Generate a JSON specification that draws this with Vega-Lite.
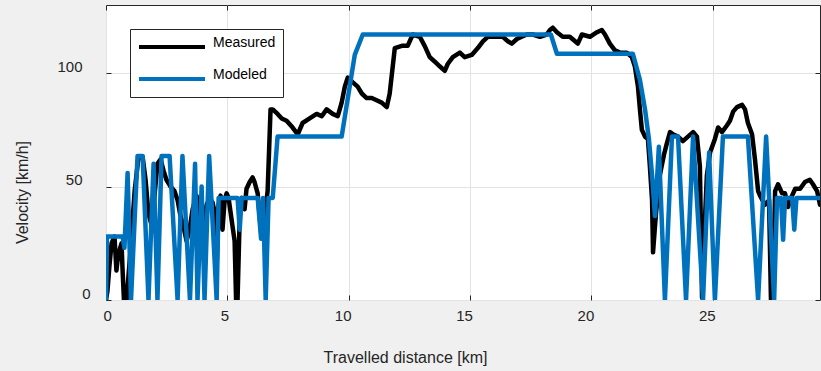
{
  "$schema": "https://vega.github.io/schema/vega-lite/v6.json",
  "width": 714,
  "height": 295,
  "autosize": {"type": "none"},
  "padding": {"left": 106, "top": 5, "right": 1, "bottom": 71},
  "background": "#f0f0f0",
  "view": {"fill": "white", "stroke": "#262626", "strokeWidth": 1},
  "config": {
    "font": "Liberation Sans",
    "axis": {"labelFont": "Liberation Sans", "titleFont": "Liberation Sans", "labelColor": "#262626", "titleColor": "#262626", "titleFontWeight": "normal"}
  },
  "datasets": {
    "speed": [
      {"series": "Measured", "distance": 0, "velocity": 0},
      {"series": "Measured", "distance": 0.06, "velocity": 4},
      {"series": "Measured", "distance": 0.14, "velocity": 15},
      {"series": "Measured", "distance": 0.23, "velocity": 25},
      {"series": "Measured", "distance": 0.35, "velocity": 28},
      {"series": "Measured", "distance": 0.43, "velocity": 13},
      {"series": "Measured", "distance": 0.47, "velocity": 17},
      {"series": "Measured", "distance": 0.56, "velocity": 22},
      {"series": "Measured", "distance": 0.64, "velocity": 25},
      {"series": "Measured", "distance": 0.68, "velocity": 14},
      {"series": "Measured", "distance": 0.74, "velocity": 0},
      {"series": "Measured", "distance": 0.85, "velocity": 0},
      {"series": "Measured", "distance": 1.01, "velocity": 22},
      {"series": "Measured", "distance": 1.18, "velocity": 48},
      {"series": "Measured", "distance": 1.34, "velocity": 63},
      {"series": "Measured", "distance": 1.51, "velocity": 63},
      {"series": "Measured", "distance": 1.63, "velocity": 53},
      {"series": "Measured", "distance": 1.75, "velocity": 38},
      {"series": "Measured", "distance": 1.88, "velocity": 33},
      {"series": "Measured", "distance": 2.0, "velocity": 46},
      {"series": "Measured", "distance": 2.12, "velocity": 60},
      {"series": "Measured", "distance": 2.25, "velocity": 62},
      {"series": "Measured", "distance": 2.37, "velocity": 57},
      {"series": "Measured", "distance": 2.49, "velocity": 53},
      {"series": "Measured", "distance": 2.66, "velocity": 50},
      {"series": "Measured", "distance": 2.82, "velocity": 48},
      {"series": "Measured", "distance": 2.95, "velocity": 44},
      {"series": "Measured", "distance": 3.07, "velocity": 37},
      {"series": "Measured", "distance": 3.2, "velocity": 32},
      {"series": "Measured", "distance": 3.32, "velocity": 26},
      {"series": "Measured", "distance": 3.44, "velocity": 31},
      {"series": "Measured", "distance": 3.57, "velocity": 40},
      {"series": "Measured", "distance": 3.73, "velocity": 46},
      {"series": "Measured", "distance": 3.86, "velocity": 37},
      {"series": "Measured", "distance": 3.98, "velocity": 31},
      {"series": "Measured", "distance": 4.15, "velocity": 42},
      {"series": "Measured", "distance": 4.27, "velocity": 45},
      {"series": "Measured", "distance": 4.39, "velocity": 43},
      {"series": "Measured", "distance": 4.47, "velocity": 39},
      {"series": "Measured", "distance": 4.56, "velocity": 15},
      {"series": "Measured", "distance": 4.64, "velocity": 42},
      {"series": "Measured", "distance": 4.72, "velocity": 46},
      {"series": "Measured", "distance": 4.8, "velocity": 31},
      {"series": "Measured", "distance": 4.89, "velocity": 44},
      {"series": "Measured", "distance": 4.97, "velocity": 47},
      {"series": "Measured", "distance": 5.05, "velocity": 45},
      {"series": "Measured", "distance": 5.18, "velocity": 35},
      {"series": "Measured", "distance": 5.3, "velocity": 26},
      {"series": "Measured", "distance": 5.36, "velocity": 0},
      {"series": "Measured", "distance": 5.42, "velocity": 0},
      {"series": "Measured", "distance": 5.51, "velocity": 37},
      {"series": "Measured", "distance": 5.59, "velocity": 45},
      {"series": "Measured", "distance": 5.71, "velocity": 40},
      {"series": "Measured", "distance": 5.79, "velocity": 49},
      {"series": "Measured", "distance": 5.92, "velocity": 52},
      {"series": "Measured", "distance": 6.04, "velocity": 54},
      {"series": "Measured", "distance": 6.12, "velocity": 52},
      {"series": "Measured", "distance": 6.25, "velocity": 47},
      {"series": "Measured", "distance": 6.33, "velocity": 37},
      {"series": "Measured", "distance": 6.41, "velocity": 28},
      {"series": "Measured", "distance": 6.49, "velocity": 33},
      {"series": "Measured", "distance": 6.66, "velocity": 48},
      {"series": "Measured", "distance": 6.78, "velocity": 84},
      {"series": "Measured", "distance": 6.87, "velocity": 84},
      {"series": "Measured", "distance": 7.07, "velocity": 82},
      {"series": "Measured", "distance": 7.24, "velocity": 80},
      {"series": "Measured", "distance": 7.44, "velocity": 79},
      {"series": "Measured", "distance": 7.69, "velocity": 76},
      {"series": "Measured", "distance": 7.9, "velocity": 73},
      {"series": "Measured", "distance": 8.1, "velocity": 78},
      {"series": "Measured", "distance": 8.39, "velocity": 80},
      {"series": "Measured", "distance": 8.68, "velocity": 82},
      {"series": "Measured", "distance": 8.89, "velocity": 81},
      {"series": "Measured", "distance": 9.09, "velocity": 84},
      {"series": "Measured", "distance": 9.34, "velocity": 82},
      {"series": "Measured", "distance": 9.55, "velocity": 81},
      {"series": "Measured", "distance": 9.71, "velocity": 87},
      {"series": "Measured", "distance": 9.84, "velocity": 94},
      {"series": "Measured", "distance": 9.96, "velocity": 98},
      {"series": "Measured", "distance": 10.16, "velocity": 96},
      {"series": "Measured", "distance": 10.37, "velocity": 94},
      {"series": "Measured", "distance": 10.54, "velocity": 91},
      {"series": "Measured", "distance": 10.74, "velocity": 89},
      {"series": "Measured", "distance": 10.95, "velocity": 89},
      {"series": "Measured", "distance": 11.15, "velocity": 88},
      {"series": "Measured", "distance": 11.36, "velocity": 87},
      {"series": "Measured", "distance": 11.57, "velocity": 85},
      {"series": "Measured", "distance": 11.69, "velocity": 91},
      {"series": "Measured", "distance": 11.9, "velocity": 111},
      {"series": "Measured", "distance": 12.19, "velocity": 112},
      {"series": "Measured", "distance": 12.43, "velocity": 112},
      {"series": "Measured", "distance": 12.64, "velocity": 117},
      {"series": "Measured", "distance": 12.93, "velocity": 116},
      {"series": "Measured", "distance": 13.13, "velocity": 112},
      {"series": "Measured", "distance": 13.34, "velocity": 107},
      {"series": "Measured", "distance": 13.55, "velocity": 105},
      {"series": "Measured", "distance": 13.75, "velocity": 103},
      {"series": "Measured", "distance": 13.96, "velocity": 101},
      {"series": "Measured", "distance": 14.08, "velocity": 104},
      {"series": "Measured", "distance": 14.29, "velocity": 107},
      {"series": "Measured", "distance": 14.58, "velocity": 109},
      {"series": "Measured", "distance": 14.78, "velocity": 107},
      {"series": "Measured", "distance": 15.07, "velocity": 108},
      {"series": "Measured", "distance": 15.32, "velocity": 111},
      {"series": "Measured", "distance": 15.53, "velocity": 114},
      {"series": "Measured", "distance": 15.73, "velocity": 116},
      {"series": "Measured", "distance": 16.1, "velocity": 116},
      {"series": "Measured", "distance": 16.35, "velocity": 116},
      {"series": "Measured", "distance": 16.56, "velocity": 114},
      {"series": "Measured", "distance": 16.72, "velocity": 113},
      {"series": "Measured", "distance": 16.93, "velocity": 115},
      {"series": "Measured", "distance": 17.13, "velocity": 116},
      {"series": "Measured", "distance": 17.34, "velocity": 117},
      {"series": "Measured", "distance": 17.59, "velocity": 117},
      {"series": "Measured", "distance": 17.88, "velocity": 116},
      {"series": "Measured", "distance": 18.16, "velocity": 117},
      {"series": "Measured", "distance": 18.29, "velocity": 119},
      {"series": "Measured", "distance": 18.41, "velocity": 120},
      {"series": "Measured", "distance": 18.58, "velocity": 118},
      {"series": "Measured", "distance": 18.82, "velocity": 116},
      {"series": "Measured", "distance": 19.11, "velocity": 116},
      {"series": "Measured", "distance": 19.44, "velocity": 113},
      {"series": "Measured", "distance": 19.61, "velocity": 117},
      {"series": "Measured", "distance": 19.94, "velocity": 116},
      {"series": "Measured", "distance": 20.23, "velocity": 118},
      {"series": "Measured", "distance": 20.43, "velocity": 119},
      {"series": "Measured", "distance": 20.56, "velocity": 117},
      {"series": "Measured", "distance": 20.76, "velocity": 113},
      {"series": "Measured", "distance": 20.97, "velocity": 110},
      {"series": "Measured", "distance": 21.18, "velocity": 109},
      {"series": "Measured", "distance": 21.46, "velocity": 109},
      {"series": "Measured", "distance": 21.67, "velocity": 107},
      {"series": "Measured", "distance": 21.79, "velocity": 103},
      {"series": "Measured", "distance": 21.92, "velocity": 94},
      {"series": "Measured", "distance": 22.0, "velocity": 84},
      {"series": "Measured", "distance": 22.08, "velocity": 75},
      {"series": "Measured", "distance": 22.21, "velocity": 72},
      {"series": "Measured", "distance": 22.33, "velocity": 71},
      {"series": "Measured", "distance": 22.41, "velocity": 59},
      {"series": "Measured", "distance": 22.5, "velocity": 44},
      {"series": "Measured", "distance": 22.54, "velocity": 21},
      {"series": "Measured", "distance": 22.66, "velocity": 38},
      {"series": "Measured", "distance": 22.82, "velocity": 55},
      {"series": "Measured", "distance": 22.99, "velocity": 64},
      {"series": "Measured", "distance": 23.11, "velocity": 69},
      {"series": "Measured", "distance": 23.24, "velocity": 74},
      {"series": "Measured", "distance": 23.36, "velocity": 73},
      {"series": "Measured", "distance": 23.57, "velocity": 72},
      {"series": "Measured", "distance": 23.77, "velocity": 70},
      {"series": "Measured", "distance": 23.98, "velocity": 72},
      {"series": "Measured", "distance": 24.19, "velocity": 74},
      {"series": "Measured", "distance": 24.35, "velocity": 72},
      {"series": "Measured", "distance": 24.47, "velocity": 59},
      {"series": "Measured", "distance": 24.56, "velocity": 1},
      {"series": "Measured", "distance": 24.64, "velocity": 26},
      {"series": "Measured", "distance": 24.76, "velocity": 55},
      {"series": "Measured", "distance": 24.89, "velocity": 65},
      {"series": "Measured", "distance": 25.09, "velocity": 71},
      {"series": "Measured", "distance": 25.22, "velocity": 76},
      {"series": "Measured", "distance": 25.38, "velocity": 74},
      {"series": "Measured", "distance": 25.59, "velocity": 77},
      {"series": "Measured", "distance": 25.71, "velocity": 79},
      {"series": "Measured", "distance": 25.84, "velocity": 83},
      {"series": "Measured", "distance": 26.0, "velocity": 85},
      {"series": "Measured", "distance": 26.21, "velocity": 86},
      {"series": "Measured", "distance": 26.33, "velocity": 84},
      {"series": "Measured", "distance": 26.45, "velocity": 78},
      {"series": "Measured", "distance": 26.62, "velocity": 73},
      {"series": "Measured", "distance": 26.74, "velocity": 62},
      {"series": "Measured", "distance": 26.87, "velocity": 48},
      {"series": "Measured", "distance": 26.95, "velocity": 46},
      {"series": "Measured", "distance": 27.15, "velocity": 42},
      {"series": "Measured", "distance": 27.32, "velocity": 44},
      {"series": "Measured", "distance": 27.4, "velocity": 0},
      {"series": "Measured", "distance": 27.48, "velocity": 1},
      {"series": "Measured", "distance": 27.57, "velocity": 48},
      {"series": "Measured", "distance": 27.69, "velocity": 51},
      {"series": "Measured", "distance": 27.86, "velocity": 47},
      {"series": "Measured", "distance": 27.98, "velocity": 47},
      {"series": "Measured", "distance": 28.1, "velocity": 41},
      {"series": "Measured", "distance": 28.27, "velocity": 46},
      {"series": "Measured", "distance": 28.4, "velocity": 49},
      {"series": "Measured", "distance": 28.6, "velocity": 49},
      {"series": "Measured", "distance": 28.8, "velocity": 52},
      {"series": "Measured", "distance": 29.0, "velocity": 53},
      {"series": "Measured", "distance": 29.13, "velocity": 51},
      {"series": "Measured", "distance": 29.3, "velocity": 48},
      {"series": "Measured", "distance": 29.42, "velocity": 42},
      {"series": "Modeled", "distance": 0, "velocity": 0},
      {"series": "Modeled", "distance": 0.04, "velocity": 28},
      {"series": "Modeled", "distance": 0.68, "velocity": 28},
      {"series": "Modeled", "distance": 0.76, "velocity": 23},
      {"series": "Modeled", "distance": 0.89, "velocity": 56},
      {"series": "Modeled", "distance": 1.03, "velocity": 0},
      {"series": "Modeled", "distance": 1.3, "velocity": 63.5},
      {"series": "Modeled", "distance": 1.51, "velocity": 63.5},
      {"series": "Modeled", "distance": 1.75, "velocity": 0},
      {"series": "Modeled", "distance": 1.96, "velocity": 60},
      {"series": "Modeled", "distance": 2.12, "velocity": 0},
      {"series": "Modeled", "distance": 2.29, "velocity": 63.5},
      {"series": "Modeled", "distance": 2.62, "velocity": 63.5},
      {"series": "Modeled", "distance": 2.95, "velocity": 0},
      {"series": "Modeled", "distance": 3.15, "velocity": 63.5},
      {"series": "Modeled", "distance": 3.46, "velocity": 0},
      {"series": "Modeled", "distance": 3.67, "velocity": 60},
      {"series": "Modeled", "distance": 3.77, "velocity": 0},
      {"series": "Modeled", "distance": 3.94, "velocity": 50},
      {"series": "Modeled", "distance": 4.06, "velocity": 0},
      {"series": "Modeled", "distance": 4.25, "velocity": 63.5},
      {"series": "Modeled", "distance": 4.56, "velocity": 0},
      {"series": "Modeled", "distance": 4.64, "velocity": 45},
      {"series": "Modeled", "distance": 5.42, "velocity": 45},
      {"series": "Modeled", "distance": 5.51, "velocity": 31},
      {"series": "Modeled", "distance": 5.59, "velocity": 45},
      {"series": "Modeled", "distance": 6.25, "velocity": 45},
      {"series": "Modeled", "distance": 6.39, "velocity": 27},
      {"series": "Modeled", "distance": 6.47, "velocity": 45},
      {"series": "Modeled", "distance": 6.58, "velocity": 0},
      {"series": "Modeled", "distance": 6.7, "velocity": 45},
      {"series": "Modeled", "distance": 6.87, "velocity": 45},
      {"series": "Modeled", "distance": 7.07, "velocity": 72},
      {"series": "Modeled", "distance": 9.71, "velocity": 72},
      {"series": "Modeled", "distance": 10.25, "velocity": 108},
      {"series": "Modeled", "distance": 10.58, "velocity": 117},
      {"series": "Modeled", "distance": 18.33, "velocity": 117},
      {"series": "Modeled", "distance": 18.58, "velocity": 108.5},
      {"series": "Modeled", "distance": 21.71, "velocity": 108.5},
      {"series": "Modeled", "distance": 22.0, "velocity": 97},
      {"series": "Modeled", "distance": 22.21, "velocity": 84},
      {"series": "Modeled", "distance": 22.37, "velocity": 71},
      {"series": "Modeled", "distance": 22.5, "velocity": 55},
      {"series": "Modeled", "distance": 22.62, "velocity": 37},
      {"series": "Modeled", "distance": 22.78, "velocity": 67.5},
      {"series": "Modeled", "distance": 23.03, "velocity": 0},
      {"series": "Modeled", "distance": 23.32, "velocity": 72},
      {"series": "Modeled", "distance": 23.57, "velocity": 72},
      {"series": "Modeled", "distance": 23.9, "velocity": 0},
      {"series": "Modeled", "distance": 24.19, "velocity": 72},
      {"series": "Modeled", "distance": 24.6, "velocity": 0},
      {"series": "Modeled", "distance": 24.85, "velocity": 65},
      {"series": "Modeled", "distance": 25.09, "velocity": 0},
      {"series": "Modeled", "distance": 25.42, "velocity": 72},
      {"series": "Modeled", "distance": 26.45, "velocity": 72},
      {"series": "Modeled", "distance": 26.87, "velocity": 0},
      {"series": "Modeled", "distance": 27.2, "velocity": 72},
      {"series": "Modeled", "distance": 27.53, "velocity": 0},
      {"series": "Modeled", "distance": 27.65, "velocity": 45},
      {"series": "Modeled", "distance": 27.81, "velocity": 45},
      {"series": "Modeled", "distance": 27.9, "velocity": 26.5},
      {"series": "Modeled", "distance": 27.98, "velocity": 45},
      {"series": "Modeled", "distance": 28.27, "velocity": 45},
      {"series": "Modeled", "distance": 28.36, "velocity": 31},
      {"series": "Modeled", "distance": 28.45, "velocity": 45},
      {"series": "Modeled", "distance": 29.42, "velocity": 45}
    ]
  },
  "layer": [
    {
      "data": {"name": "speed"},
      "transform": [{"filter": "datum.series === 'Measured'"}],
      "mark": {"type": "line", "strokeWidth": 4.5, "strokeJoin": "round", "strokeCap": "round", "clip": true},
      "encoding": {
        "x": {
          "field": "distance", "type": "quantitative",
          "scale": {"domain": [0, 29.42], "nice": false, "zero": false},
          "axis": {
            "orient": "bottom", "values": [0, 5, 10, 15, 20, 25], "domain": false,
            "grid": true, "gridColor": "#e3e3e3", "gridWidth": 1,
            "ticks": true, "tickSize": -5, "tickColor": "#262626", "tickWidth": 1,
            "labelFontSize": 15, "labelPadding": 13, "labelBaseline": "top",
            "labelOffset": {"expr": "datum.value < 10 ? -3 : -6"},
            "title": "Travelled distance [km]", "titleFontSize": 16,
            "titleX": 299, "titleY": 57, "titleBaseline": "middle", "titleAlign": "center"
          }
        },
        "y": {
          "field": "velocity", "type": "quantitative",
          "scale": {"domain": [0, 130], "nice": false},
          "axis": {
            "orient": "left", "values": [0, 50, 100], "domain": false,
            "grid": true, "gridColor": "#e3e3e3", "gridWidth": 1,
            "ticks": true, "tickSize": -5, "tickColor": "#262626", "tickWidth": 1,
            "labelFontSize": 15, "labelBaseline": "middle", "labelOffset": -7,
            "labelPadding": {"expr": "datum.value === 0 ? 21 : 29"},
            "title": "Velocity [km/h]", "titleFontSize": 16,
            "titleX": -84, "titleY": 187, "titleAngle": -90, "titleBaseline": "middle", "titleAlign": "center"
          }
        },
        "color": {
          "field": "series", "type": "nominal",
          "scale": {"domain": ["Measured", "Modeled"], "range": ["#000000", "#0072BD"]},
          "legend": {
            "orient": "none", "legendX": 24, "legendY": 24, "direction": "vertical", "title": null,
            "symbolType": "stroke", "symbolSize": 4356, "symbolStrokeWidth": 4,
            "clipHeight": 22, "rowPadding": 10, "padding": 7,
            "labelFont": "Liberation Sans", "labelFontSize": 14, "labelColor": "#000000",
            "labelOffset": 6, "labelBaseline": "alphabetic",
            "labelExpr": "datum.label + '            '",
            "fillColor": "#ffffff", "strokeColor": "#262626"
          }
        }
      }
    },
    {
      "data": {"name": "speed"},
      "transform": [{"filter": "datum.series === 'Modeled'"}],
      "mark": {"type": "line", "strokeWidth": 4.5, "strokeJoin": "round", "strokeCap": "round", "clip": true},
      "encoding": {
        "x": {"field": "distance", "type": "quantitative", "axis": null},
        "y": {"field": "velocity", "type": "quantitative", "axis": null},
        "color": {"field": "series", "type": "nominal"}
      }
    },
    {
      "data": {"values": [{"distance": 0, "velocity": 0}]},
      "mark": {"type": "rule", "opacity": 0},
      "encoding": {
        "x": {
          "field": "distance", "type": "quantitative",
          "axis": {"orient": "top", "values": [0, 5, 10, 15, 20, 25], "labels": false, "title": null, "domain": false, "grid": false, "ticks": true, "tickSize": -5, "tickColor": "#262626"}
        },
        "y": {
          "field": "velocity", "type": "quantitative",
          "axis": {"orient": "right", "values": [0, 50, 100], "labels": false, "title": null, "domain": false, "grid": false, "ticks": true, "tickSize": -5, "tickColor": "#262626"}
        }
      }
    }
  ],
  "resolve": {"axis": {"x": "independent", "y": "independent"}}
}
